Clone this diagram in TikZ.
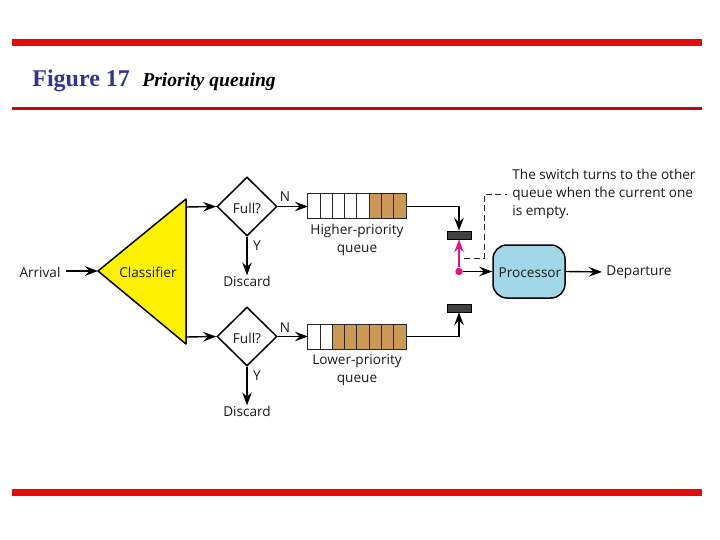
\documentclass[tikz,border=0pt]{standalone}
\usepackage{fontspec}
\setmainfont{Liberation Serif}
\newfontfamily\labelfont{Open Sans}
\usetikzlibrary{arrows.meta,shapes.geometric}
\definecolor{barred}{RGB}{230,10,10}
\definecolor{titleblue}{RGB}{51,51,153}
\definecolor{cellbrown}{RGB}{204,153,85}
\definecolor{procblue}{RGB}{160,216,234}
\definecolor{switchpink}{RGB}{230,20,130}
\definecolor{switchgrey}{RGB}{64,64,64}
\tikzset{
	every picture/.style={line width=0.75pt},
	lbl/.style={font=\labelfont\fontsize{13.6}{18}\selectfont,text=black!90,inner sep=0pt,align=center},
	flow/.style={line width=1.4pt,-{Stealth[length=13pt,width=9.5pt,inset=4.5pt]}},
	fullbox/.style={draw,line width=1.5pt,shape=diamond,aspect=1,minimum width=60pt,minimum height=59pt,inner sep=0pt,fill=white},
	emptycell/.style={draw=black!85,line width=1pt,fill=white,minimum width=12.25pt,minimum height=25pt,inner sep=0pt,outer sep=0pt},
	usedcell/.style={emptycell,fill=cellbrown},
	switchbar/.style={draw=black,line width=0.5pt,fill=switchgrey,minimum width=24pt,minimum height=8pt,inner sep=0pt},
}
\begin{document}
\begin{tikzpicture}[x=1pt,y=1pt,yscale=-1,xscale=1]
	\useasboundingbox (0,0) rectangle (720,540);
	
	%Title bars
	\fill [barred] (12,39) rectangle (702,46);
	\fill [barred!85!black] (12,107) rectangle (702,110);
	\fill [barred] (12,489) rectangle (702,496);
	%Title text
	\node [anchor=base west,inner sep=0pt,text=titleblue,font=\bfseries\fontsize{24}{26}\selectfont] (figno) at (32,87) {Figure 17};
	\node [anchor=base west,inner sep=0pt,font=\bfseries\itshape\fontsize{19.6}{22}\selectfont] (figname) at (142,87) {Priority queuing};
	
	%Classifier triangle
	\coordinate (clfApex) at (98,271);
	\coordinate (clfUp) at (186,207);
	\coordinate (clfDown) at (186,337);
	\draw [line width=1.5pt,fill=yellow,line join=round] (clfApex) -- (186,199) -- (186,344) -- cycle;
	\node [lbl] (clf) at (148,272) {Classifier};
	\node [lbl] (arrival) at (40,272) {Arrival};
	\coordinate (arrivalEnd) at (66,271);
	\draw [flow] (arrivalEnd) -- (clfApex);
	
	%Upper branch
	\node [fullbox] (fullA) at (247,206.5) {};
	\node [lbl] (fullAtxt) at (247,208) {Full?};
	\node [lbl] (discardA) at (247,281) {Discard};
	\node [lbl] (nA) at (285,197) {N};
	\node [lbl] (yA) at (257,246) {Y};
	\draw [flow] (clfUp) -- (fullA.west);
	\draw [flow] (fullA.south) -- (discardA.north);
	\node [emptycell] (a1) at (314.1,206.5) {};
	\node [emptycell] (a2) at (326.4,206.5) {};
	\node [emptycell] (a3) at (338.6,206.5) {};
	\node [emptycell] (a4) at (350.9,206.5) {};
	\node [emptycell] (a5) at (363.1,206.5) {};
	\node [usedcell] (a6) at (375.4,206.5) {};
	\node [usedcell] (a7) at (387.6,206.5) {};
	\node [usedcell] (a8) at (399.9,206.5) {};
	\draw [flow] (fullA.east) -- (a1.west);
	\node [lbl] (queueA) at (357,240) {Higher-priority\\queue};
	
	%Lower branch
	\node [fullbox] (fullB) at (247,336.5) {};
	\node [lbl] (fullBtxt) at (247,338) {Full?};
	\node [lbl] (discardB) at (247,411) {Discard};
	\node [lbl] (nB) at (285,328) {N};
	\node [lbl] (yB) at (257,376) {Y};
	\draw [flow] (clfDown) -- (fullB.west);
	\draw [flow] (fullB.south) -- (discardB.north);
	\node [emptycell] (b1) at (314.1,336.5) {};
	\node [emptycell] (b2) at (326.4,336.5) {};
	\node [usedcell] (b3) at (338.6,336.5) {};
	\node [usedcell] (b4) at (350.9,336.5) {};
	\node [usedcell] (b5) at (363.1,336.5) {};
	\node [usedcell] (b6) at (375.4,336.5) {};
	\node [usedcell] (b7) at (387.6,336.5) {};
	\node [usedcell] (b8) at (399.9,336.5) {};
	\draw [flow] (fullB.east) -- (b1.west);
	\node [lbl] (queueB) at (357,370) {Lower-priority\\queue};
	
	%Switch
	\node [switchbar] (barA) at (459,235) {};
	\node [switchbar] (barB) at (459,308) {};
	\draw [flow] (a8.east) -| (barA.north);
	\draw [flow] (b8.east) -| (barB.south);
	\node [fill=switchpink,shape=circle,minimum size=7.5pt,inner sep=0pt] (pivot) at (459,271.5) {};
	\draw [flow,draw=switchpink,fill=switchpink] (pivot) -- (barA.south);
	
	%Processor
	\node [draw,line width=1.5pt,fill=procblue,rounded corners=14pt,minimum width=72pt,minimum height=53pt,inner sep=0pt] (proc) at (529,271.5) {};
	\node [lbl] (proctxt) at (530,273) {Processor};
	\node [lbl,anchor=west] (departure) at (606,272) {Departure};
	\draw [flow] (pivot) -- (proc.west);
	\draw [flow,shorten >=4pt] (proc.east) -- (departure.west);
	
	%Note with dashed leader
	\node [lbl,anchor=west,align=left] (note) at (512,194) {The switch turns to the other\\queue when the current one\\is empty.};
	\coordinate (leadStart) at (464,258);
	\coordinate (leadBend) at (484,258);
	\draw [line width=0.9pt,black!85,dash pattern=on 6pt off 3.5pt,shorten >=5pt] (leadStart) -- (leadBend) |- (note.west);
	
\end{tikzpicture}
\end{document}
